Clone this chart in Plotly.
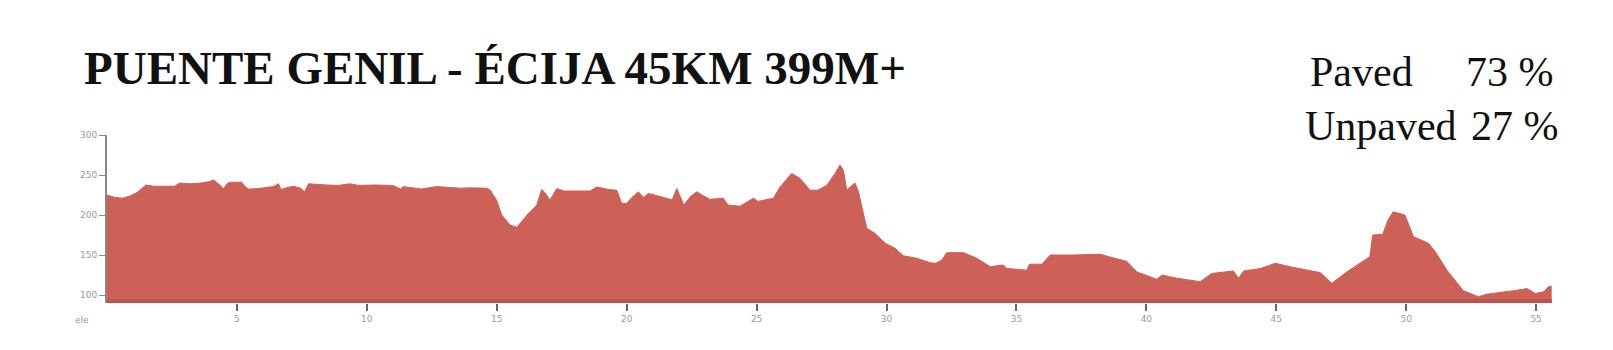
import plotly.graph_objects as go

# ---- data ----
distance_km = [
    0.0, 0.3, 0.6, 0.9, 1.15, 1.35, 1.5, 1.8, 2.2, 2.6, 2.8, 3.2, 3.6, 3.9, 4.1, 4.3, 4.48, 4.65, 4.8, 5.18,
    5.3, 5.44, 5.8, 6.1, 6.4, 6.6, 6.7, 6.9, 7.18, 7.45, 7.6, 7.76, 8.1, 8.46, 8.9, 9.35, 9.7, 10.3, 11.0, 11.3,
    11.4, 11.8, 12.1, 12.67, 13.1, 13.6, 14.0, 14.36, 14.63, 14.75, 15.0, 15.19, 15.35, 15.51, 15.77, 15.96,
    16.22, 16.54, 16.73, 16.85, 17.05, 17.31, 17.6, 18.2, 18.59, 18.85, 19.3, 19.62, 19.81, 20.0, 20.2, 20.45,
    20.65, 20.84, 21.2, 21.54, 21.75, 21.93, 22.05, 22.2, 22.45, 22.7, 22.95, 23.2, 23.72, 23.9, 24.36, 24.88,
    25.05, 25.65, 25.9, 26.35, 26.67, 27.06, 27.35, 27.7, 28.02, 28.21, 28.34, 28.47, 28.6, 28.79, 28.92, 29.24,
    29.56, 29.95, 30.33, 30.65, 31.16, 31.68, 31.9, 32.13, 32.32, 32.96, 33.47, 33.99, 34.5, 34.62, 35.4, 35.5,
    35.98, 36.3, 37.2, 38.22, 38.54, 39.25, 39.63, 40.4, 40.6, 41.17, 42.07, 42.52, 43.35, 43.55, 43.74, 44.38,
    44.96, 45.66, 46.69, 47.14, 47.72, 48.6, 48.71, 49.1, 49.3, 49.5, 49.95, 50.28, 50.86, 51.12, 51.57, 52.2,
    52.78, 53.1, 54.13, 54.65, 54.97, 55.29, 55.48, 55.6,
]
elevation_m = [
    225, 222, 221, 224, 228, 234, 237.5, 236, 236, 236, 240, 239, 240, 241.5, 243.7, 238.7, 233, 240, 241, 241,
    236, 232.5, 233, 234, 235.5, 239, 232, 234, 236, 233.5, 229, 239, 238, 237.5, 237, 239, 237, 237.5, 237, 232.5,
    235.5, 234, 232.5, 235.5, 234.5, 233.5, 234, 233.3, 233.5, 231, 218, 200, 193, 187.5, 184.6, 191.7,
    202, 212.5, 232, 228, 218.75, 233, 230, 230, 230, 235, 232, 231, 214.6, 214.6, 222, 229,
    222, 227, 224, 221, 219, 233, 224.6, 212.5, 222.9, 229, 224, 219.6, 221, 212.5, 211, 221,
    217, 221, 235, 252, 245.8, 231, 231, 237, 252, 262.5, 256, 231, 235, 240, 229, 183.3,
    177, 164.6, 158.3, 149, 146, 140.4, 139.6, 143.7, 152.9, 152.9, 146, 135.4, 137.5, 133.3, 131, 138.5,
    138.5, 150, 150, 151, 148, 142, 129, 119.6, 125, 121, 116.7, 127, 130, 121, 130, 133,
    139.6, 134.5, 128, 114.6, 129, 147.9, 175, 176, 193.75, 204, 200, 172.9, 164.6, 154, 131, 105.4,
    97.9, 101, 105.4, 108, 102, 104, 110.4, 111,
]
x_tick_values = [5, 10, 15, 20, 25, 30, 35, 40, 45, 50, 55]
x_tick_labels = ["5", "10", "15", "20", "25", "30", "35", "40", "45", "50", "55"]
y_tick_values = [100, 150, 200, 250, 300]
y_tick_labels = ["100", "150", "200", "250", "300"]
title_text = "PUENTE GENIL - ÉCIJA 45KM 399M+"
surface_labels = ["Paved", "Unpaved"]
surface_shares = ["73 %", "27 %"]
origin_label = "ele"

# ---- layout geometry (pixels) ----
W, H = 1613, 350
L, R, T, B = 107, 1553, 135, 303
PW, PH = R - L, B - T


def px(xp):
    return (xp - L) / PW


def py(yp):
    return (B - yp) / PH


FILL = "#cd6157"
SERIF = "Liberation Serif"

fig = go.Figure()
fig.add_trace(go.Scatter(
    x=distance_km, y=elevation_m, mode="lines", fill="tozeroy",
    line=dict(color=FILL, width=1), fillcolor=FILL, hoverinfo="x+y",
    showlegend=False,
))

fig.add_shape(type="rect", xref="x", yref="paper", x0=0, x1=distance_km[-1],
              y0=0, y1=4 / PH, fillcolor="#b9554c", line=dict(width=0), layer="above")

annotations = [
    dict(text=title_text, x=px(82), y=py(68), xanchor="left", yanchor="middle",
         font=dict(family=SERIF, size=47, color="#111111", weight="bold")),
    dict(text=surface_labels[0], x=px(1308), y=py(72), xanchor="left", yanchor="middle",
         font=dict(family=SERIF, size=42, color="#111111")),
    dict(text=surface_shares[0], x=px(1556), y=py(72), xanchor="right", yanchor="middle",
         font=dict(family=SERIF, size=42, color="#111111")),
    dict(text=surface_labels[1], x=px(1303), y=py(126), xanchor="left", yanchor="middle",
         font=dict(family=SERIF, size=42, color="#111111")),
    dict(text=surface_shares[1], x=px(1561), y=py(126), xanchor="right", yanchor="middle",
         font=dict(family=SERIF, size=42, color="#111111")),
    dict(text=origin_label, x=px(82), y=py(320), xanchor="center", yanchor="middle",
         font=dict(family="DejaVu Sans", size=9, color="#999999")),
]
for a in annotations:
    a.update(xref="paper", yref="paper", showarrow=False)

fig.update_layout(
    width=W, height=H,
    margin=dict(l=L, r=W - R, t=T, b=H - B, pad=0),
    paper_bgcolor="white", plot_bgcolor="white",
    annotations=annotations,
    xaxis=dict(range=[0, 55.65], tickvals=x_tick_values, ticktext=x_tick_labels,
               ticks="outside", ticklen=7, tickwidth=2, tickcolor="#666666",
               showgrid=False, zeroline=False, showline=False,
               tickfont=dict(family="DejaVu Sans", size=9, color="#999999")),
    yaxis=dict(range=[90, 300], tickvals=y_tick_values, ticktext=y_tick_labels,
               ticks="outside", ticklen=6, tickwidth=1, tickcolor="#888888",
               showgrid=False, zeroline=False, showline=True, linecolor="#888888", linewidth=2,
               tickfont=dict(family="DejaVu Sans", size=9, color="#999999")),
)

fig.write_html("out.html")
